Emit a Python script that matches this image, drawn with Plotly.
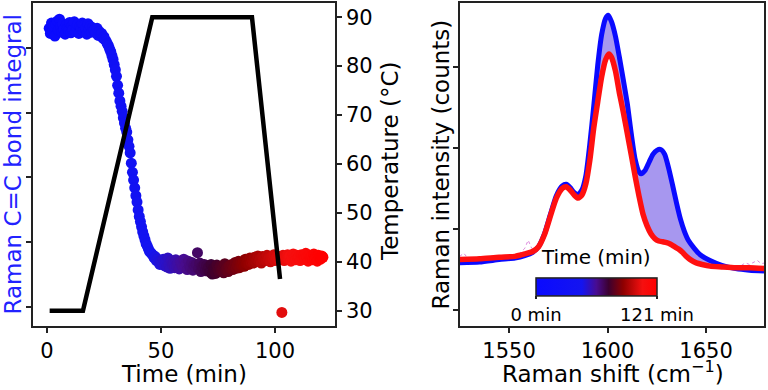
import plotly.graph_objects as go

# ---------------- data: left panel ----------------
time_start = 1.0
time_step = 0.5
cc_integral = [
    4.30, 4.22, 4.38, 4.25, 4.33, 4.18, 4.36, 4.41, 4.27, 4.44,
    4.32, 4.24, 4.37, 4.29, 4.21, 4.35, 4.30, 4.26, 4.39, 4.23,
    4.34, 4.28, 4.40, 4.25, 4.31, 4.36, 4.22, 4.33, 4.29, 4.38,
    4.26, 4.35, 4.30, 4.21, 4.37, 4.28, 4.33, 4.24, 4.31, 4.27,
    4.28, 4.23, 4.30, 4.19, 4.25, 4.20, 4.22, 4.15, 4.17, 4.12,
    4.10, 4.06, 4.03, 3.98, 3.94, 3.88, 3.82, 3.74, 3.66, 3.56,
    3.42, 3.30, 3.18, 3.10, 3.02, 2.92, 2.84, 2.76, 2.70, 2.58,
    2.48, 2.38, 2.22, 2.08, 1.96, 1.84, 1.72, 1.62, 1.50, 1.40,
    1.32, 1.24, 1.16, 1.10, 1.04, 0.98, 0.94, 0.90, 0.86, 0.84,
    0.82, 0.80, 0.76, 0.78, 0.72, 0.74, 0.70, 0.66, 0.71, 0.68,
    0.74, 0.64, 0.70, 0.62, 0.76, 0.66, 0.60, 0.72, 0.65, 0.69,
    0.61, 0.73, 0.64, 0.68, 0.59, 0.70, 0.66, 0.62, 0.74, 0.63,
    0.67, 0.58, 0.71, 0.63, 0.60, 0.69, 0.57, 0.65, 0.62, 0.66,
    0.84, 0.59, 0.68, 0.55, 0.63, 0.60, 0.66, 0.56, 0.64, 0.58,
    0.62, 0.54, 0.66, 0.51, 0.60, 0.57, 0.52, 0.65, 0.58, 0.55,
    0.63, 0.56, 0.60, 0.53, 0.67, 0.58, 0.61, 0.55, 0.64, 0.59,
    0.66, 0.58, 0.62, 0.69, 0.60, 0.65, 0.71, 0.61, 0.68, 0.64,
    0.70, 0.63, 0.74, 0.67, 0.72, 0.66, 0.76, 0.69, 0.73, 0.68,
    0.77, 0.70, 0.74, 0.79, 0.71, 0.75, 0.68, 0.78, 0.73, 0.76,
    0.72, 0.80, 0.74, 0.77, 0.70, 0.78, 0.75, 0.81, 0.72, 0.76,
    0.79, 0.73, 0.77, 0.74, -0.08, 0.80, 0.72, 0.78, 0.75, 0.81,
    0.74, 0.79, 0.71, 0.77, 0.82, 0.75, 0.73, 0.80, 0.76, 0.78,
    0.72, 0.81, 0.75, 0.79, 0.74, 0.83, 0.77, 0.71, 0.80, 0.76,
    0.79, 0.73, 0.82, 0.75, 0.78, 0.71, 0.80, 0.76, 0.74, 0.79,
    0.77,
]
times = [time_start + time_step * i for i in range(len(cc_integral))]

temp_time = [1.2, 15.8, 46.2, 89.9, 102.2]
temp_value = [30, 30, 90, 90, 36.5]

# ---------------- data: right panel ----------------
shift_red = [1525, 1535, 1545, 1553, 1558, 1562, 1565, 1568, 1571, 1574, 1577, 1579,
             1581, 1583, 1585, 1587, 1589, 1591, 1593, 1595, 1597, 1599, 1600.7,
             1602, 1604, 1606, 1608, 1610, 1612, 1614, 1616, 1618, 1620, 1622, 1624,
             1626, 1628, 1630, 1632, 1634, 1636, 1638, 1640, 1642, 1645, 1648, 1652,
             1658, 1665, 1672, 1680]
spec_final = [0.62, 0.63, 0.65, 0.66, 0.69, 0.72, 0.78, 0.93, 1.16, 1.38, 1.50, 1.52,
              1.48, 1.42, 1.38, 1.42, 1.56, 1.85, 2.25, 2.57, 2.88, 3.09, 3.16,
              3.12, 2.95, 2.68, 2.44, 2.18, 1.92, 1.65, 1.40, 1.18, 1.04, 0.94, 0.88,
              0.85, 0.84, 0.83, 0.81, 0.78, 0.75, 0.71, 0.66, 0.62, 0.58, 0.56, 0.54,
              0.53, 0.52, 0.52, 0.51]

shift_blue = [1525, 1535, 1545, 1553, 1558, 1562, 1565, 1568, 1571, 1574, 1577, 1579,
              1581, 1583, 1585, 1587, 1589, 1591, 1593, 1595, 1597, 1599, 1600.3,
              1602, 1604, 1606, 1608, 1610, 1612, 1614, 1616, 1617, 1619, 1621, 1623,
              1625, 1627, 1629, 1631, 1633, 1635, 1637, 1639, 1641, 1644, 1647, 1652,
              1658, 1665, 1672, 1680]
spec_initial = [0.58, 0.59, 0.62, 0.64, 0.67, 0.71, 0.78, 0.94, 1.18, 1.41, 1.53, 1.55,
                1.51, 1.45, 1.42, 1.48, 1.66, 2.05, 2.52, 3.02, 3.40, 3.60, 3.64,
                3.56, 3.38, 3.12, 2.84, 2.55, 2.18, 1.86, 1.70, 1.68, 1.72, 1.82, 1.92,
                1.97, 1.98, 1.92, 1.75, 1.54, 1.32, 1.12, 0.97, 0.86, 0.76, 0.68, 0.61,
                0.55, 0.51, 0.49, 0.48]

shift_noise = [1525, 1527, 1529, None, 1555, 1558, 1559.7, 1561.5, 1563, None,
               1668, 1670, 1672, 1674, 1676, 1678, 1680]
spec_noise = [0.66, 0.70, 0.64, None, 0.69, 0.76, 0.86, 0.76, 0.74, None,
              0.55, 0.58, 0.56, 0.59, 0.61, 0.57, 0.58]

time_colorscale = [[0.0, "#0a0aff"], [0.38, "#1414f0"], [0.5, "#480c90"],
                   [0.6, "#3c0030"], [0.72, "#8e0000"], [0.88, "#f51010"], [1.0, "#ff0000"]]
t_min, t_max = 0, 121
colorbar_ticks = ["0 min", "121 min"]

FONT = "DejaVu Sans"
W, H = 768, 390

def px_x(p):
    return p / W

def px_y(p):
    return (H - p) / H

fig = go.Figure()

# left: C=C integral scatter
fig.add_trace(go.Scatter(
    x=times, y=cc_integral, mode="markers", xaxis="x", yaxis="y",
    marker=dict(size=11, color=times, coloraxis="coloraxis", line=dict(width=0)),
    showlegend=False, hoverinfo="skip"))

# left: temperature line
fig.add_trace(go.Scatter(
    x=temp_time, y=temp_value, mode="lines", xaxis="x", yaxis="y2",
    line=dict(color="black", width=4.5), showlegend=False))

# right: envelope of the intermediate spectra (between initial and final)
fig.add_trace(go.Scatter(
    x=shift_blue, y=spec_initial, mode="lines", xaxis="x2", yaxis="y3",
    line=dict(color="rgba(0,0,0,0)", width=0, shape="spline", smoothing=0.6),
    showlegend=False, hoverinfo="skip"))
fig.add_trace(go.Scatter(
    x=shift_red, y=spec_final, mode="lines", xaxis="x2", yaxis="y3",
    line=dict(color="rgba(0,0,0,0)", width=0, shape="spline", smoothing=0.6),
    fill="tonexty", fillcolor="rgba(95,65,225,0.55)",
    showlegend=False, hoverinfo="skip"))
# noisy individual spectrum fragments
fig.add_trace(go.Scatter(
    x=shift_noise, y=spec_noise, mode="lines", xaxis="x2", yaxis="y3",
    line=dict(color="rgba(215,120,215,0.9)", width=1, dash="dot"),
    showlegend=False, connectgaps=False))
# initial spectrum (blue)
fig.add_trace(go.Scatter(
    x=shift_blue, y=spec_initial, mode="lines", xaxis="x2", yaxis="y3",
    line=dict(color="#0a0aff", width=5, shape="spline", smoothing=0.6),
    showlegend=False))
# final spectrum (red)
fig.add_trace(go.Scatter(
    x=shift_red, y=spec_final, mode="lines", xaxis="x2", yaxis="y3",
    line=dict(color="#ff1010", width=5.5, shape="spline", smoothing=0.6),
    showlegend=False))

axis_common = dict(showline=True, linecolor="#222", linewidth=1.5, ticks="outside",
                   ticklen=5, tickwidth=1.5, tickcolor="#222", showgrid=False,
                   zeroline=False, tickfont=dict(family=FONT, size=21, color="black"))

dom_y = [px_y(326), px_y(3)]

fig.update_layout(
    width=W, height=H, margin=dict(l=0, r=0, t=0, b=0),
    paper_bgcolor="white", plot_bgcolor="white",
    font=dict(family=FONT, color="black"),
    xaxis=dict(domain=[px_x(33), px_x(335)], range=[-6.1, 126.3], anchor="y",
               tickvals=[0, 50, 100], mirror=True, **axis_common),
    yaxis=dict(domain=dom_y, range=[-0.29, 4.69], anchor="x",
               tickvals=[0, 1, 2, 3, 4], showticklabels=False, mirror=True, **axis_common),
    yaxis2=dict(range=[26.9, 92.9], overlaying="y", side="right", anchor="x",
                tickvals=[30, 40, 50, 60, 70, 80, 90], **axis_common),
    xaxis2=dict(domain=[px_x(460), px_x(764)], range=[1525.1, 1679.4], anchor="y3",
                tickvals=[1550, 1600, 1650], mirror=True, **axis_common),
    yaxis3=dict(domain=dom_y, range=[-0.2, 3.79], anchor="x2",
                tickvals=[0, 1, 2, 3], showticklabels=False, mirror=True, **axis_common),
    coloraxis=dict(
        colorscale=time_colorscale, cmin=t_min, cmax=t_max,
        colorbar=dict(
            orientation="h", x=px_x(596.5), xanchor="center",
            y=px_y(302), yanchor="middle",
            len=121, lenmode="pixels", thickness=18, thicknessmode="pixels",
            outlinewidth=1.5, outlinecolor="#222",
            tickvals=[t_min, t_max], ticktext=colorbar_ticks,
            ticks="outside", ticklen=3, tickcolor="#222", tickwidth=1.5,
            tickfont=dict(family=FONT, size=18, color="black"),
            xpad=0, ypad=0, bgcolor="rgba(0,0,0,0)")),
)

title_font = dict(family=FONT, size=23, color="black")
annotations = [
    dict(text="Time (min)", x=px_x(184), y=px_y(374), font=title_font),
    dict(text="Raman shift (cm<sup>−1</sup>)", x=px_x(613), y=px_y(372), font=title_font),
    dict(text="Raman C=C bond integral", x=px_x(13), y=px_y(164.5), textangle=-90,
         font=dict(family=FONT, size=23, color="#2222ff")),
    dict(text="Temperature (°C)", x=px_x(390), y=px_y(161), textangle=-90, font=title_font),
    dict(text="Raman intensity (counts)", x=px_x(441), y=px_y(164.5), textangle=-90,
         font=title_font),
    dict(text="Time (min)", x=px_x(596), y=px_y(257), font=dict(family=FONT, size=20, color="black")),
]
for a in annotations:
    a.update(xref="paper", yref="paper", showarrow=False, xanchor="center", yanchor="middle")
fig.update_layout(annotations=annotations)

fig.write_html("out.html", config={"displayModeBar": False},
               post_script="document.body.style.margin='0';document.body.style.overflow='hidden';")
